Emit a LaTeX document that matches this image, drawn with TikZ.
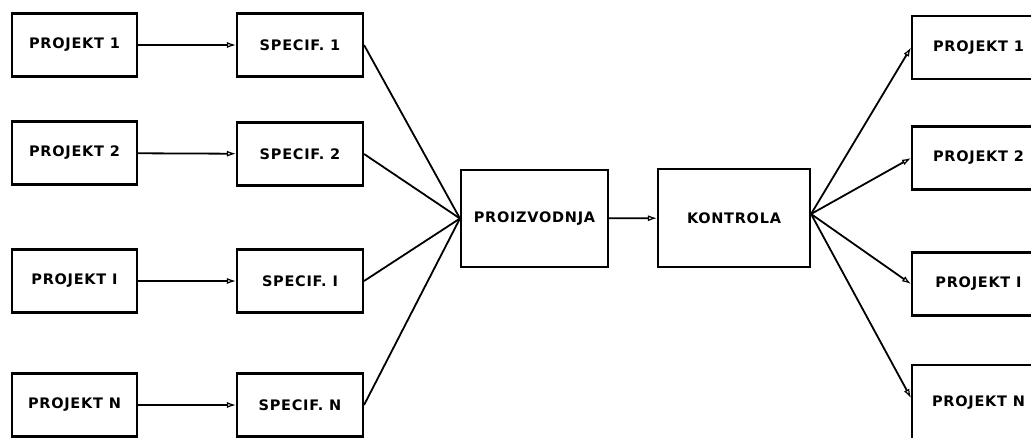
\documentclass[tikz,border=0pt]{standalone}
\usepackage{fontspec}
\newfontfamily\lbl[LetterSpace=5]{DejaVu Sans}
\usetikzlibrary{arrows.meta,calc}
\begin{document}
\begin{tikzpicture}[x=1pt,y=-1pt,
  box/.style={draw, line width=2.1pt, rectangle, inner sep=0pt,
    font=\lbl\bfseries\fontsize{14.5}{15}\selectfont},
  pbox/.style={box, minimum width=125pt, minimum height=63pt},
  sbox/.style={box, minimum width=126pt, minimum height=63pt},
  rbox/.style={box, minimum width=133pt, minimum height=63pt},
  conn/.style={line width=1.8pt},
  arr/.style={conn, -{Latex[open,length=9pt,width=6pt,line width=1.2pt]}}]
\useasboundingbox (0,0) rectangle (1031,437);
\clip (0,0) rectangle (1031,437);
% left projects
\node[pbox] (p1) at (74.5,45) {PROJEKT 1};
\node[pbox] (p2) at (74.5,153) {PROJEKT 2};
\node[pbox] (p3) at (74.5,281) {PROJEKT I};
\node[pbox] (p4) at (74.5,405) {PROJEKT N};
% specifications
\node[sbox] (s1) at (300,45) {SPECIF. 1};
\node[sbox] (s2) at (300,154) {SPECIF. 2};
\node[sbox] (s3) at (300,281) {SPECIF. I};
\node[sbox] (s4) at (300,405) {SPECIF. N};
% centre
\node[box, minimum width=147pt, minimum height=97pt] (prod) at (534.5,218.5) {PROIZVODNJA};
\node[box, minimum width=152pt, minimum height=98pt] (kont) at (734,218) {KONTROLA};
% right projects
\node[rbox] (r1) at (978.5,47.5) {PROJEKT 1};
\node[rbox] (r2) at (978.5,158) {PROJEKT 2};
\node[rbox] (r3) at (978.5,284) {PROJEKT I};
\node[rbox, minimum height=80pt] (r4) at (978.5,405) {\raisebox{7pt}{PROJEKT N}};
% connectors
\foreach \i in {1,2,3,4} {
  \draw[arr] (p\i) -- (s\i);
  \draw[conn] (s\i.east) -- (prod.west);
}
\draw[arr] (prod) -- (kont);
\draw[arr] ([yshift=4pt]kont.east) -- (r1.west);
\draw[arr] ([yshift=4pt]kont.east) -- (r2.west);
\draw[arr] ([yshift=4pt]kont.east) -- (r3.west);
\draw[arr] ([yshift=4pt]kont.east) -- ([yshift=7pt]r4.west);
\end{tikzpicture}
\end{document}
